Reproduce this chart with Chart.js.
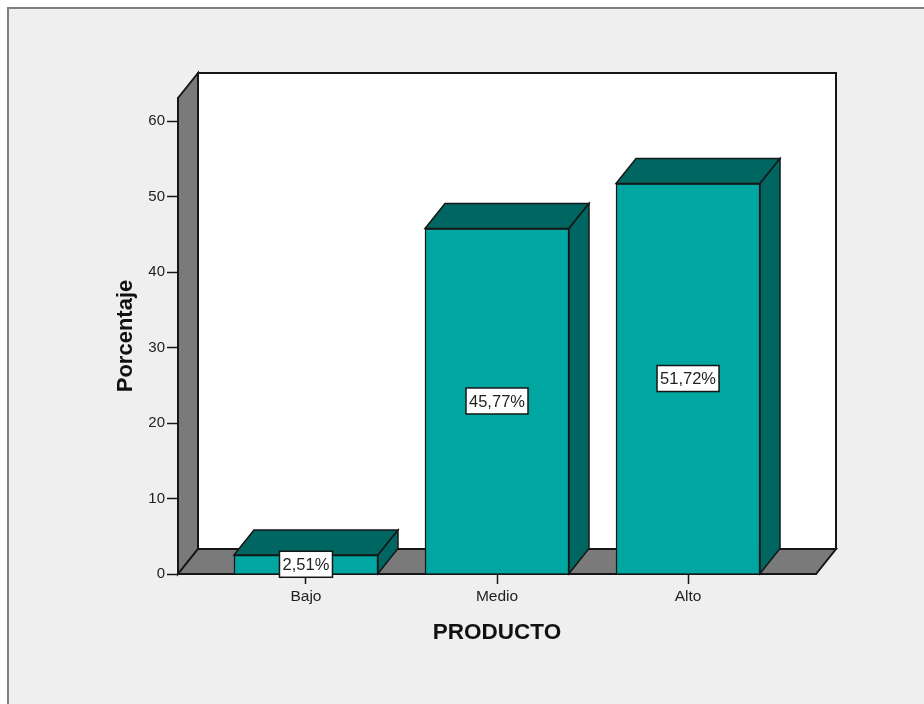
<!DOCTYPE html>
<html>
<head>
<meta charset="utf-8">
<title>Producto</title>
<script src="https://cdn.jsdelivr.net/npm/chart.js@4/dist/chart.umd.min.js"></script>
<style>
  html, body { margin: 0; padding: 0; background: #fff; overflow: hidden; }
  #frame {
    position: absolute; left: 7px; top: 7px; width: 940px; height: 720px;
    background: #efefef; border: 2px solid #808080;
  }
  #wrap { position: absolute; left: 0; top: 0; width: 924px; height: 704px; }
</style>
</head>
<body>
<div id="frame"></div>
<div id="wrap"><canvas id="myChart" width="924" height="704"></canvas></div>
<script>
const categories = ['Bajo', 'Medio', 'Alto'];
const percentages = [2.51, 45.77, 51.72];
const yTicks = [0, 10, 20, 30, 40, 50, 60];

const TEAL = '#00a6a2';
const TEAL_DARK = '#006662';
const WALL = '#7a7a7a';
const LINE = '#161616';
const DEPTH_X = 20;
const DEPTH_Y = 25;
const FONT = '"Liberation Sans", Arial, sans-serif';

function poly(ctx, points, fill) {
  ctx.beginPath();
  points.forEach(([x, y], i) => (i ? ctx.lineTo(x, y) : ctx.moveTo(x, y)));
  ctx.closePath();
  ctx.fillStyle = fill;
  ctx.fill();
  ctx.stroke();
}

// back wall, left wall and floor of the 3D box
const boxPlugin = {
  id: 'box',
  beforeDraw(chart) {
    const { ctx, chartArea: a } = chart;
    ctx.save();
    ctx.strokeStyle = LINE;
    ctx.lineWidth = 2;
    poly(ctx, [
      [a.left + DEPTH_X, a.top - DEPTH_Y],
      [a.right + DEPTH_X, a.top - DEPTH_Y],
      [a.right + DEPTH_X, a.bottom - DEPTH_Y],
      [a.left + DEPTH_X, a.bottom - DEPTH_Y],
    ], '#fff');
    poly(ctx, [
      [a.left, a.top],
      [a.left + DEPTH_X, a.top - DEPTH_Y],
      [a.left + DEPTH_X, a.bottom - DEPTH_Y],
      [a.left, a.bottom],
    ], WALL);
    poly(ctx, [
      [a.left, a.bottom],
      [a.left + DEPTH_X, a.bottom - DEPTH_Y],
      [a.right + DEPTH_X, a.bottom - DEPTH_Y],
      [a.right, a.bottom],
    ], WALL);
    ctx.restore();
  },
};

// top and side faces of each bar, then the value boxes
const barFacesPlugin = {
  id: 'barFaces',
  afterDatasetsDraw(chart) {
    const { ctx } = chart;
    const bars = chart.getDatasetMeta(0).data;
    ctx.save();
    ctx.strokeStyle = LINE;
    ctx.lineWidth = 1.5;
    bars.forEach((bar) => {
      const left = bar.x - bar.width / 2;
      const right = bar.x + bar.width / 2;
      poly(ctx, [
        [left, bar.y],
        [left + DEPTH_X, bar.y - DEPTH_Y],
        [right + DEPTH_X, bar.y - DEPTH_Y],
        [right, bar.y],
      ], TEAL_DARK);
      poly(ctx, [
        [right, bar.y],
        [right + DEPTH_X, bar.y - DEPTH_Y],
        [right + DEPTH_X, bar.base - DEPTH_Y],
        [right, bar.base],
      ], TEAL_DARK);
    });

    ctx.font = '16.5px ' + FONT;
    ctx.textAlign = 'center';
    ctx.textBaseline = 'middle';
    bars.forEach((bar, i) => {
      const text = percentages[i].toFixed(2).replace('.', ',') + '%';
      const midY = (bar.y + bar.base) / 2;
      const w = Math.round(ctx.measureText(text).width) + 6;
      const h = 26;
      ctx.fillStyle = '#fff';
      ctx.fillRect(bar.x - w / 2, midY - h / 2, w, h);
      ctx.strokeRect(bar.x - w / 2, midY - h / 2, w, h);
      ctx.fillStyle = '#222';
      ctx.fillText(text, bar.x, midY + 1);
    });
    ctx.restore();
  },
};

const ctx = document.getElementById('myChart');
const chart = new Chart(ctx, {
  type: 'bar',
  data: {
    datasets: [{
      data: categories.map((name, i) => ({ x: i, y: percentages[i] })),
      backgroundColor: TEAL,
      borderColor: LINE,
      borderWidth: 1.5,
      barThickness: 144,
    }],
  },
  plugins: [boxPlugin, barFacesPlugin],
  options: {
    responsive: false,
    animation: false,
    layout: { padding: { left: 0, top: 98, right: 108, bottom: 0 } },
    plugins: { legend: { display: false }, tooltip: { enabled: false } },
    scales: {
      x: {
        type: 'linear',
        offset: false,
        min: -0.67,
        max: 2.67,
        afterFit(scale) { scale.height = 130; },
        afterBuildTicks(scale) { scale.ticks = categories.map((c, i) => ({ value: i })); },
        grid: { offset: false, drawOnChartArea: false, tickLength: 10, tickColor: LINE, tickWidth: 1.5 },
        border: { color: LINE, width: 2 },
        ticks: {
          color: '#222',
          padding: 3,
          maxRotation: 0,
          autoSkip: false,
          font: { family: FONT, size: 15.5 },
          callback: (value) => categories[value],
        },
        title: {
          display: true,
          text: 'PRODUCTO',
          color: '#111',
          font: { family: FONT, size: 22.5, weight: 'bold' },
          padding: { top: 0, bottom: 58 },
        },
      },
      y: {
        min: 0,
        max: 63.05,
        afterFit(scale) { scale.width = 178; },
        afterBuildTicks(scale) { scale.ticks = yTicks.map((value) => ({ value })); },
        grid: { drawOnChartArea: false, tickLength: 11, tickColor: LINE, tickWidth: 1.5 },
        border: { color: LINE, width: 2 },
        ticks: {
          color: '#222',
          padding: 2,
          font: { family: FONT, size: 15 },
        },
        title: {
          display: true,
          text: 'Porcentaje',
          color: '#111',
          font: { family: FONT, size: 22, weight: 'bold' },
          padding: { top: 113, bottom: 0 },
        },
      },
    },
  },
});
</script>
</body>
</html>
